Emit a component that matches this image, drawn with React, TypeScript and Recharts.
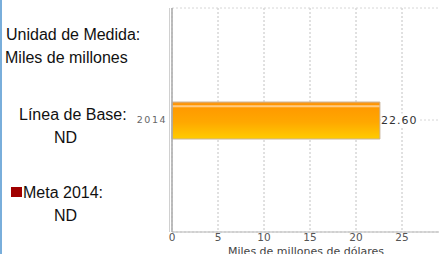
import { BarChart, Bar, XAxis, YAxis, CartesianGrid, LabelList } from 'recharts';

const years = ['2014'];
const values = [22.6];
const xTicks = [0, 5, 10, 15, 20, 25];

const chartData = years.map((year, i) => ({ year, value: values[i] }));

const FONT = '"Liberation Sans", Arial, sans-serif';
const AXIS_FONT = '"DejaVu Sans", Verdana, sans-serif';

function ValueLabel(props: any) {
  const { x, y, width, height, value } = props;
  const tx = x + width + 1;
  const ty = y + height / 2;
  return (
    <g>
      <rect x={tx} y={ty - 7} width={38} height={14} fill="#fff" />
      <text
        x={tx}
        y={ty}
        dy="0.35em"
        fontSize={11}
        letterSpacing={1}
        fontFamily={AXIS_FONT}
        fill="#333"
      >
        {Number(value).toFixed(2)}
      </text>
    </g>
  );
}

export default function App() {
  const text = (label: string, left: number, top: number) => (
    <div style={{ position: 'absolute', left, top, fontSize: 16, lineHeight: '18px', color: '#111', whiteSpace: 'nowrap' }}>
      {label}
    </div>
  );

  return (
    <div
      style={{
        position: 'absolute',
        left: 0,
        top: 0,
        width: 439,
        height: 254,
        overflow: 'hidden',
        background: '#fff',
        fontFamily: FONT,
      }}
    >
      <div style={{ position: 'absolute', left: 0, top: 0, width: 2, height: 254, background: '#79aedb' }} />

      <div style={{ position: 'absolute', left: 0, top: 0 }}>
        <BarChart
          width={460}
          height={254}
          data={chartData}
          layout="vertical"
          margin={{ top: 8, right: 12, bottom: 0, left: 0 }}
          barCategoryGap={0}
        >
          <defs>
            <linearGradient id="barFill" x1="0" y1="0" x2="0" y2="1">
              <stop offset="0%" stopColor="#f59a2a" />
              <stop offset="7%" stopColor="#ff9500" />
              <stop offset="11%" stopColor="#ffd9a8" />
              <stop offset="16%" stopColor="#ff9a00" />
              <stop offset="55%" stopColor="#ffa800" />
              <stop offset="100%" stopColor="#ffcc00" />
            </linearGradient>
          </defs>
          <CartesianGrid
            stroke="#d6d6d6"
            strokeDasharray="2 2"
            vertical
            horizontal
            verticalPoints={[]}
          />
          <CartesianGrid stroke="#d6d6d6" strokeDasharray="2 2" horizontal={false} verticalValues={[5, 10, 15, 20, 25, 30]} />
          <XAxis
            type="number"
            domain={[0, 30]}
            ticks={xTicks}
            interval={0}
            height={22}
            tickLine={false}
            tickSize={0}
            tickMargin={2}
            axisLine={{ stroke: '#b5b5b5' }}
            tick={{ fill: '#555', fontSize: 10.5, fontFamily: AXIS_FONT }}
            label={{
              value: 'Miles de millones de dólares',
              position: 'insideBottom',
              offset: -1,
              dx: -4,
              fill: '#444',
              fontSize: 11,
              fontFamily: AXIS_FONT,
            }}
          />
          <XAxis
            xAxisId="top"
            orientation="top"
            type="number"
            domain={[0, 30]}
            height={0}
            tick={false}
            tickLine={false}
            axisLine={{ stroke: '#dcdcdc' }}
          />
          <YAxis
            type="category"
            dataKey="year"
            width={172}
            tickLine={false}
            tickSize={0}
            tickMargin={5}
            axisLine={{ stroke: '#a8a8a8', strokeWidth: 1.5 }}
            tick={{ fill: '#666', fontSize: 9.5, fontFamily: AXIS_FONT, letterSpacing: 1.5 }}
          />
          <Bar
            dataKey="value"
            barSize={37}
            fill="url(#barFill)"
            stroke="#c9b49a"
            strokeWidth={1}
            isAnimationActive={false}
          >
            <LabelList dataKey="value" content={<ValueLabel />} />
          </Bar>
        </BarChart>
      </div>

      <div style={{ position: 'absolute', left: 169, top: 8, width: 1, height: 224, background: '#d0d0d0' }} />

      {text('Unidad de Medida:', 6, 26)}
      {text('Miles de millones', 5, 49)}
      {text('Línea de Base:', 19, 106)}
      {text('ND', 54, 129)}
      <div style={{ position: 'absolute', left: 11, top: 187, width: 11, height: 10, background: '#a00000' }} />
      {text('Meta 2014:', 23, 184)}
      {text('ND', 54, 207)}
    </div>
  );
}
